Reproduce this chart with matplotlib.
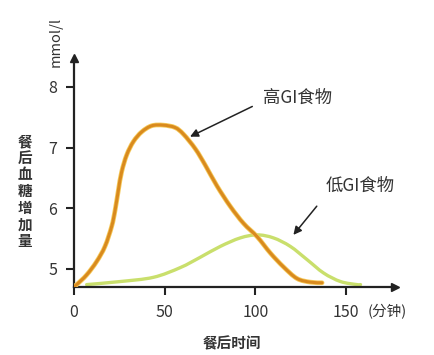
import matplotlib.pyplot as plt
from matplotlib.path import Path
from matplotlib.patches import PathPatch

plt.rcParams['font.family'] = ['Noto Sans CJK SC', 'DejaVu Sans']

# high GI curve (minutes, mmol/l)
high_t = [0, 1.5, 7, 12.5, 17.1, 20.8, 22.7, 24.5, 26.3, 29.1, 32.8, 37.4, 42.9,
          49.3, 55.8, 60.4, 66.9, 72.4, 78.8, 86.2, 93.5, 101, 108.3, 115.6, 123,
          130.4, 136.8]
high_v = [4.71, 4.74, 4.90, 5.12, 5.37, 5.70, 5.97, 6.30, 6.60, 6.88, 7.10, 7.26,
          7.36, 7.37, 7.33, 7.22, 6.98, 6.71, 6.37, 6.03, 5.75, 5.53, 5.26, 5.03,
          4.84, 4.78, 4.77]

# low GI curve
low_t = [7, 25.4, 43.8, 58.6, 69.6, 80.7, 91.7, 101, 110, 119.3, 128.6, 137.7,
         147, 156, 158]
low_v = [4.74, 4.79, 4.86, 5.02, 5.19, 5.37, 5.51, 5.56, 5.51, 5.37, 5.15, 4.93,
         4.79, 4.74, 4.74]

x_ticks = [0, 50, 100, 150]
y_ticks = [5, 6, 7, 8]

txt = '#333333'


def smooth_path(xs, ys):
    # catmull-rom through the listed points, drawn as cubic beziers
    pts = list(zip(xs, ys))
    pts = [pts[0]] + pts + [pts[-1]]
    verts = [pts[1]]
    codes = [Path.MOVETO]
    for i in range(1, len(pts) - 2):
        p0, p1, p2, p3 = pts[i - 1], pts[i], pts[i + 1], pts[i + 2]
        c1 = (p1[0] + (p2[0] - p0[0]) / 6, p1[1] + (p2[1] - p0[1]) / 6)
        c2 = (p2[0] - (p3[0] - p1[0]) / 6, p2[1] - (p3[1] - p1[1]) / 6)
        verts += [c1, c2, p2]
        codes += [Path.CURVE4] * 3
    return Path(verts, codes)


fig = plt.figure(figsize=(4.35, 3.55), dpi=100)
ax = fig.add_axes([0.170, 0.1915, 0.738, 0.6455])

hp = smooth_path(high_t, high_v)
lp = smooth_path(low_t, low_v)
ax.add_patch(PathPatch(lp, fill=False, ec='#C9DF6C', lw=2.4, capstyle='round', zorder=2))
ax.add_patch(PathPatch(hp, fill=False, ec='#F5C95A', lw=3.4, capstyle='round', zorder=3))
ax.add_patch(PathPatch(hp, fill=False, ec='#D98A1E', lw=2.2, capstyle='round', zorder=4))

ax.set_xlim(0, 177)
ax.set_ylim(4.7, 8.48)

for s in ['top', 'right']:
    ax.spines[s].set_visible(False)
for s in ['left', 'bottom']:
    ax.spines[s].set_linewidth(1.6)
    ax.spines[s].set_color('#222222')

ax.plot(1, 0, '>', color='#222222', ms=6, transform=ax.transAxes, clip_on=False)
ax.plot(0, 1, '^', color='#222222', ms=6, transform=ax.transAxes, clip_on=False)

ax.set_xticks(x_ticks)
ax.set_yticks(y_ticks)
ax.tick_params(direction='out', length=6, width=1.5, color='#222222',
               labelsize=11.5, labelcolor=txt, pad=6)

ax.annotate('高GI食物', xy=(64, 7.18), xytext=(104, 7.82), fontsize=12.5,
            color=txt, va='center', ha='left',
            arrowprops=dict(arrowstyle='-|>', color='#222222', lw=1.1,
                            mutation_scale=12, shrinkA=6, shrinkB=0,
                            relpos=(0.0, 0.3)))
ax.annotate('低GI食物', xy=(121, 5.56), xytext=(139, 6.37), fontsize=12.5,
            color=txt, va='center', ha='left',
            arrowprops=dict(arrowstyle='-|>', color='#222222', lw=1.1,
                            mutation_scale=12, shrinkA=8, shrinkB=0,
                            relpos=(0.0, 0.0)))

fig.text(56 / 435, 1 - 42 / 355, 'mmol/l', rotation=90, fontsize=10.5,
         color=txt, ha='center', va='center')
fig.text(25 / 435, 1 - 191 / 355, '\n'.join('餐后血糖增加量'), fontsize=10.5,
         fontweight='bold', color=txt, ha='center', va='center', linespacing=1.05)
fig.text(232 / 435, 1 - 343 / 355, '餐后时间', fontsize=10.5, fontweight='bold',
         color=txt, ha='center', va='center')
fig.text(387 / 435, 1 - 312 / 355, '(分钟)', fontsize=10.5, color=txt,
         ha='center', va='center')

fig.savefig('out.png', dpi=100)
